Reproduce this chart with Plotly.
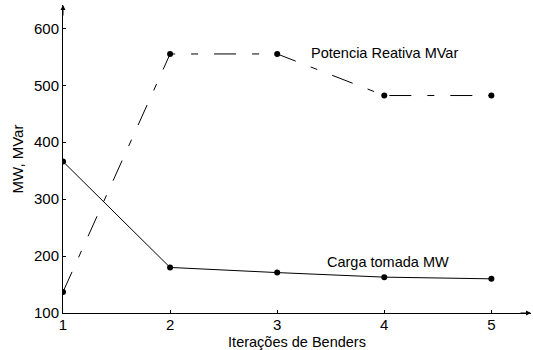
import plotly.graph_objects as go

iteracoes = [1, 2, 3, 4, 5]
potencia_reativa = [137, 555, 555, 482, 482]
carga_tomada = [366, 180, 171, 163, 160]
x_ticks = [1, 2, 3, 4, 5]
y_ticks = [100, 200, 300, 400, 500, 600]

FONT = "Liberation Sans, Arial, sans-serif"

fig = go.Figure()
fig.add_trace(go.Scatter(
    x=iteracoes, y=potencia_reativa, mode="lines+markers",
    line=dict(color="black", width=1, dash="22px,16px,7px,16px"),
    marker=dict(color="black", size=6), showlegend=False))
fig.add_trace(go.Scatter(
    x=iteracoes, y=carga_tomada, mode="lines+markers",
    line=dict(color="black", width=1),
    marker=dict(color="black", size=6), showlegend=False))

fig.add_annotation(x=3.3, y=556, text="Potencia Reativa MVar", showarrow=False,
                   xanchor="left", yanchor="middle", font=dict(family=FONT, size=14.5, color="black"))
fig.add_annotation(x=3.45, y=190, text="Carga tomada MW", showarrow=False,
                   xanchor="left", yanchor="middle", font=dict(family=FONT, size=14.5, color="black"))

# axis arrows
fig.add_annotation(x=1, y=641, xref="x", yref="y", ax=0, ay=12,
                   text="", showarrow=True, arrowhead=2, arrowsize=1, arrowwidth=1, arrowcolor="black")
fig.add_annotation(x=5.37, y=100, xref="x", yref="y", ax=-12, ay=0,
                   text="", showarrow=True, arrowhead=2, arrowsize=1, arrowwidth=1, arrowcolor="black")

fig.update_xaxes(range=[1, 5.37], tickvals=x_ticks, ticks="inside", ticklen=3, tickcolor="black",
                 showline=True, linecolor="black", linewidth=1, showgrid=False, zeroline=False,
                 ticklabelstandoff=-2,
                 tickfont=dict(family=FONT, size=15, color="black"),
                 title=dict(text="Iterações de Benders", standoff=6,
                            font=dict(family=FONT, size=14.5, color="black")))
fig.update_yaxes(range=[100, 641], tickvals=y_ticks, ticks="inside", ticklen=3, tickcolor="black",
                 showline=True, linecolor="black", linewidth=1, showgrid=False, zeroline=False,
                 tickfont=dict(family=FONT, size=15, color="black"),
                 title=dict(text="MW, MVar", standoff=6,
                            font=dict(family=FONT, size=15, color="black")))

fig.update_layout(width=533, height=350, margin=dict(l=63, r=2, t=5, b=37),
                  plot_bgcolor="white", paper_bgcolor="white")

fig.write_html("out.html", config={"displayModeBar": False},
               post_script="document.body.style.margin='0';document.body.style.overflow='hidden';")
